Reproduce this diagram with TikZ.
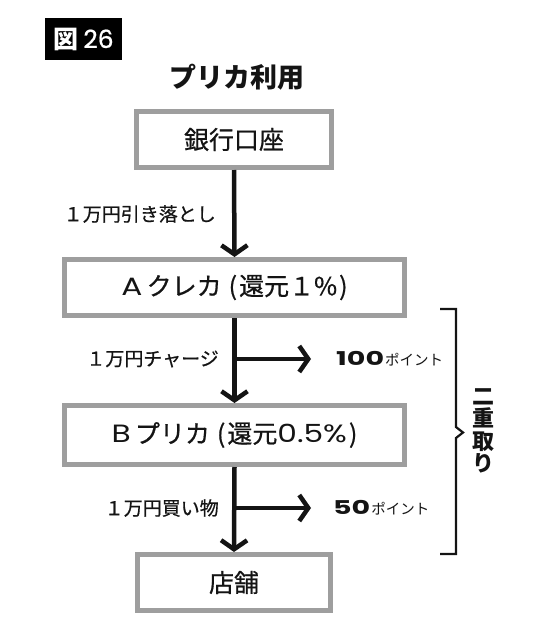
\documentclass[tikz,border=0pt]{standalone}
\usepackage{fontspec}
\setmainfont{Noto Sans CJK JP}
\newfontfamily\numfont{Poppins}[FakeBold=0.8]
\newfontfamily\widefont{Poppins}[FakeStretch=1.25]
\newfontfamily\ptsfont{Poppins}[FakeStretch=1.5]
\newfontfamily\medfont{Noto Sans CJK JP}[FakeBold=0.6]
\usetikzlibrary{arrows.meta}
\definecolor{boxgray}{RGB}{158,158,158}
\definecolor{ink}{RGB}{20,20,20}
\tikzset{
  stepbox/.style={draw=boxgray, line width=5pt, fill=white, inner sep=0pt, text=ink, font=\medfont\fontsize{25}{28}\selectfont},
  flow/.style={draw=ink, line width=4.5pt, -{Straight Barb[length=9pt, width=26pt, line width=4.5pt]}},
  lbl/.style={inner sep=0pt, text=ink, font=\medfont\fontsize{19}{22}\selectfont},
  pts/.style={inner sep=0pt, text=ink, font=\fontsize{14.5}{18}\selectfont},
}
\begin{document}
\begin{tikzpicture}[x=1pt, y=-1pt]
\useasboundingbox (0,0) rectangle (540,634);
% figure tag
\node[fill=black, minimum width=77pt, minimum height=42pt, inner sep=0pt, text=white, font=\fontsize{25}{28}\selectfont] (tag) at (83.5,39) {{\bfseries 図}\hspace{5pt}{\numfont 26}};
% title
\node[inner sep=0pt, text=ink, font=\fontsize{27}{30}\selectfont\bfseries] (title) at (237,77) {プリカ利用};
% boxes
\node[stepbox, minimum width=195pt, minimum height=56pt] (b1) at (234,139.5) {銀行口座};
\node[stepbox, minimum width=340pt, minimum height=56pt] (b2) at (234.5,287.5) {{\widefont A}\,クレカ\hspace{7pt}(\hspace{2pt}還元１\%\hspace{2pt})};
\node[stepbox, minimum width=340pt, minimum height=59pt] (b3) at (234.5,435) {{\widefont B}\,プリカ\hspace{7pt}(\hspace{2pt}還元{\widefont 0.5\%}\hspace{2pt})};
\node[stepbox, minimum width=193pt, minimum height=56pt] (b4) at (234,582.5) {店舗};
% main arrows
\draw[flow] (b1.south) -- (b2.north);
\draw[flow] (b2.south) -- (b3.north);
\draw[flow] (b3.south) -- (b4.north);
% branch arrows
\coordinate (j1) at (234,359);
\coordinate (e1) at (311,359);
\coordinate (j2) at (234,508);
\coordinate (e2) at (311,508);
\draw[flow] (j1) -- (e1);
\draw[flow] (j2) -- (e2);
% labels
\node[lbl, anchor=east] (l1) at (216,214) {１万円引き落とし};
\node[lbl, anchor=east] (l2) at (219,359) {１万円チャージ};
\node[lbl, anchor=east] (l3) at (219,508) {１万円買い物};
\node[pts, anchor=west] (p1) at (336,359) {{\ptsfont\bfseries\fontsize{19}{22}\selectfont 100}\hspace{1pt}ポイント};
\node[pts, anchor=west] (p2) at (333,508) {{\ptsfont\bfseries\fontsize{19}{22}\selectfont 50}\hspace{1pt}ポイント};
% bracket
\draw[ink, line width=2.2pt, line cap=butt, line join=miter] (440,309) -- (456,309) -- (456,427) -- (463,432.5) -- (456,438) -- (456,554) -- (440,554);
\node[inner sep=0pt, text=ink, align=center, font=\fontsize{22}{22.5}\selectfont\bfseries] (dbl) at (483,431) {二\\重\\取\\り};
\end{tikzpicture}
\end{document}
